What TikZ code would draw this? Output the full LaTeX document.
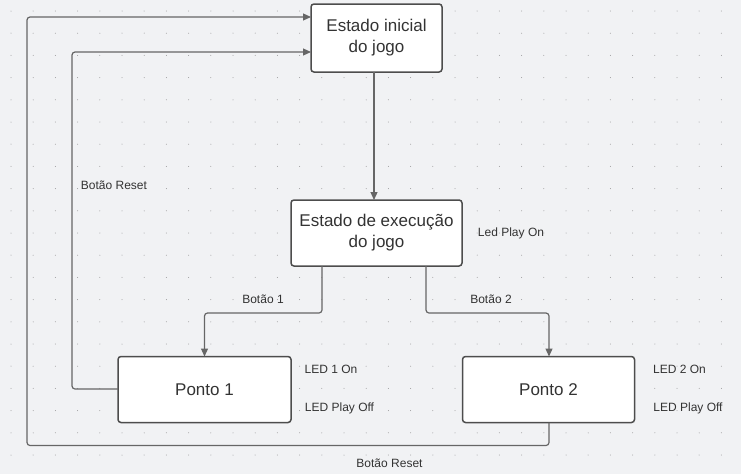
\documentclass[tikz,border=0pt]{standalone}
\usepackage{fontspec}
\setmainfont{Liberation Sans}
\usetikzlibrary{arrows.meta}
\definecolor{bg}{HTML}{F1F2F4}
\definecolor{dotc}{HTML}{9A9A9A}
\definecolor{boxline}{HTML}{4D4D4D}
\definecolor{conn}{HTML}{666666}
\definecolor{txt}{HTML}{333333}
\tikzset{
  statebox/.style={draw=boxline, fill=white, line width=1.5pt, rounded corners=3pt,
    align=center, text=txt, font=\fontsize{17}{21}\selectfont, inner sep=0pt},
  conn/.style={draw=conn, line width=1.2pt, rounded corners=3pt},
  arr/.style={conn, -{Triangle[length=8pt,width=7pt]}},
  lbl/.style={text=txt, font=\fontsize{12}{14}\selectfont, inner sep=0pt}
}
\begin{document}
\begin{tikzpicture}[x=1pt,y=-1pt]
\useasboundingbox (0,0) rectangle (741,474);
\fill[bg] (0,0) rectangle (741,474);
\foreach \i in {0,...,33}{
  \foreach \j in {0,...,21}{
    \fill[dotc] ({11+22.2*\i},{11+22.2*\j}) circle (0.5pt);
  }
}
% nodes
\node[statebox, minimum width=131pt, minimum height=68pt] (ini) at (376.5,38) {Estado inicial\\do jogo};
\node[statebox, minimum width=171pt, minimum height=66pt] (exe) at (376.5,233) {Estado de execução\\do jogo};
\node[statebox, minimum width=173pt, minimum height=66pt] (p1) at (204.5,389.5) {Ponto 1};
\node[statebox, minimum width=172pt, minimum height=66pt] (p2) at (548.5,389.5) {Ponto 2};
% helper coordinates
\coordinate (a1) at (374,72);
\coordinate (a2) at (374,200);
\coordinate (b1) at (322,266);
\coordinate (b2) at (426,266);
\coordinate (c1) at (204.5,356.5);
\coordinate (c2) at (549,356.5);
\coordinate (d1) at (118,389);
\coordinate (d2) at (311,52);
\coordinate (e1) at (549,422.5);
\coordinate (e2) at (311,17);
% connectors
\draw[arr] (a1) -- (a2);
\draw[arr] (b1) |- (204.5,313) -- (c1);
\draw[arr] (b2) |- (549,313) -- (c2);
\draw[arr] (d1) -- (72,389) -- (72,52) -- (d2);
\draw[arr] (e1) -- (549,445.5) -- (27,445.5) -- (27,17) -- (e2);
% labels
\node[lbl] (l1) at (263,299) {Botão 1};
\node[lbl] (l2) at (491,299) {Botão 2};
\node[lbl] (l3) at (114,185) {Botão Reset};
\node[lbl] (l4) at (389.5,463) {Botão Reset};
\node[lbl] (l5) at (511,233) {Led Play On};
\node[lbl] (l6) at (331,369) {LED 1 On};
\node[lbl] (l7) at (339.5,408) {LED Play Off};
\node[lbl] (l8) at (679.5,369) {LED 2 On};
\node[lbl] (l9) at (688,408) {LED Play Off};
\end{tikzpicture}
\end{document}
